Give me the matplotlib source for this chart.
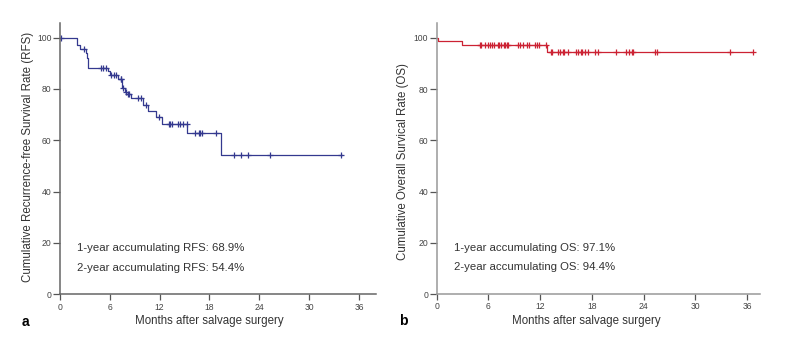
import numpy as np
import matplotlib
matplotlib.use("Agg")
import matplotlib.pyplot as plt

plt.rcParams['font.family'] = ['Liberation Sans', 'DejaVu Sans']

# --- data ---
# panel a: recurrence-free survival
rfs_times = [0, 2.1, 2.4, 3.1, 3.2, 3.4, 5.8, 6.0, 7.0, 7.5, 7.8, 8.0, 8.6, 10.0, 10.55, 11.55, 12.25, 15.35, 19.4]
rfs_surv = [100, 97.1, 95.6, 93.9, 91.9, 88.3, 87.0, 85.5, 83.9, 80.3, 79.0, 77.9, 76.4, 73.8, 71.4, 68.9, 66.4, 62.7, 54.4]
rfs_end = 34.0
rfs_censor = [0.1, 2.9, 5.0, 5.2, 5.6, 6.2, 6.5, 6.7, 7.3, 7.4, 7.6, 7.95, 8.2, 8.35, 9.45, 9.75,
              10.3, 11.95, 13.1, 13.3, 13.45, 14.2, 14.5, 14.8, 15.25, 16.2, 16.7, 16.9, 17.1,
              18.75, 20.9, 21.8, 22.7, 25.3, 33.9]

# panel b: overall survival
os_times = [0, 0.2, 2.9, 12.85]
os_surv = [100, 98.6, 97.1, 94.4]
os_end = 36.7
os_censor = [5.0, 5.1, 5.6, 5.9, 6.2, 6.4, 6.6, 7.1, 7.25, 7.4, 7.75, 7.95, 8.1, 8.25, 9.4, 9.7,
             10.05, 10.45, 10.7, 11.35, 11.6, 11.85, 12.7,
             13.2, 13.4, 14.1, 14.3, 14.6, 14.8, 15.2, 16.1, 16.4, 16.7, 16.9, 17.2, 17.5,
             18.4, 18.7, 20.8, 22.0, 22.3, 22.6, 22.8, 25.3, 25.6, 34.0, 36.7]

xticks = [0, 6, 12, 18, 24, 30, 36]
yticks = [0, 20, 40, 60, 80, 100]

fig = plt.figure(figsize=(7.85, 3.53), dpi=100)
ax1 = fig.add_axes([0.0764, 0.1663, 0.402, 0.7686])
ax2 = fig.add_axes([0.5563, 0.1671, 0.4119, 0.7686])


def km_panel(ax, times, surv, end, censor, color, spine_col, xmax, ymax, ylabel, ylab_pos,
             xlab_x, notes):
    t = list(times) + [end]
    s = list(surv) + [surv[-1]]
    ax.step(t, s, where='post', color=color, lw=0.9)
    idx = np.searchsorted(times, censor, side='right') - 1
    cy = np.array(surv)[idx]
    ax.plot(censor, cy, ls='none', marker='+', ms=4.2, mew=0.9, color=color)

    ax.set_xlim(0, xmax)
    ax.set_ylim(0, ymax)
    ax.set_xticks(xticks)
    ax.set_yticks(yticks)
    for side in ['top', 'right']:
        ax.spines[side].set_visible(False)
    for side in ['left', 'bottom']:
        ax.spines[side].set_color(spine_col)
        ax.spines[side].set_linewidth(1.1)
    ax.tick_params(direction='out', width=0.9, color='#555555',
                   labelsize=6.2, labelcolor='#444444', pad=1)
    ax.tick_params(axis='y', length=5)
    ax.tick_params(axis='x', length=4, pad=2)
    ax.set_xlabel('Months after salvage surgery', fontsize=8.3, color='#333333')
    ax.xaxis.set_label_coords(xlab_x, -0.098)
    ax.set_ylabel(ylabel, fontsize=8.3, color='#333333')
    ax.yaxis.set_label_coords(*ylab_pos)
    ax.xaxis.label.set_va('center')
    ax.yaxis.label.set_va('center')
    ax.text(2.0, 18, notes[0], fontsize=8.2, color='#333333', va='center')
    ax.text(2.0, 10.4, notes[1], fontsize=8.2, color='#333333', va='center')
    return ax


km_panel(ax1, rfs_times, rfs_surv, rfs_end, rfs_censor, '#34398f', '#666666', 38, 105.7,
         'Cumulative Recurrence-free Survival Rate (RFS)', (-0.101, 0.508), 0.4745,
         ['1-year accumulating RFS: 68.9%', '2-year accumulating RFS: 54.4%'])
km_panel(ax2, os_times, os_surv, os_end, os_censor, '#cc2233', '#999999', 37.5, 105.9,
         'Cumulative Overall Survical Rate (OS)', (-0.104, 0.49), 0.463,
         ['1-year accumulating OS: 97.1%', '2-year accumulating OS: 94.4%'])

fig.text(25 / 785, 1 - 322 / 353, 'a', fontsize=10, fontweight='bold', va='center', ha='center')
fig.text(403 / 785, 1 - 321 / 353, 'b', fontsize=10, fontweight='bold', va='center', ha='center')

fig.savefig('out.png', dpi=100)
